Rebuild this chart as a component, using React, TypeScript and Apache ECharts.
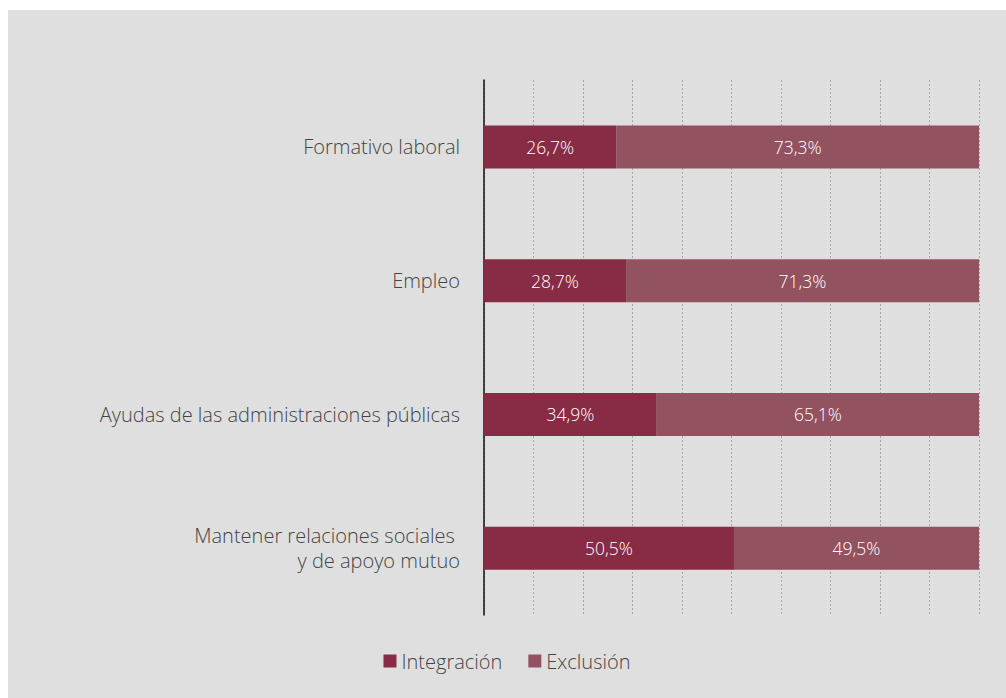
import React, { useEffect, useRef } from "react";
import * as echarts from "echarts";

const categories = [
  "Formativo laboral",
  "Empleo",
  "Ayudas de las administraciones públicas",
  "Mantener relaciones sociales \ny de apoyo mutuo",
];
const integracion = [26.7, 28.7, 34.9, 50.5];
const exclusion = [73.3, 71.3, 65.1, 49.5];
const seriesNames = ["Integración", "Exclusión"];

const FONT = "'Open Sans', Lato, sans-serif";

const fmt = (v: number) => v.toFixed(1).replace(".", ",") + "%";

export default function App() {
  const ref = useRef<HTMLDivElement>(null);
  useEffect(() => {
    document.body.style.margin = "0";
    const chart = echarts.init(ref.current!, undefined, { renderer: "svg" });
    const label = {
      show: true,
      position: "inside" as const,
      color: "#ffffff",
      fontFamily: FONT,
      fontSize: 17.5,
      fontWeight: 300,
      formatter: (p: any) => fmt(p.value),
    };
    chart.setOption({
      animation: false,
      backgroundColor: "#dfdfdf",
      grid: { left: 476, right: 27, top: 70, bottom: 83, containLabel: false },
      legend: {
        bottom: 22,
        left: "center",
        itemWidth: 13,
        itemHeight: 13,
        itemGap: 26,
        itemTextGap: 6,
        icon: "rect",
        textStyle: { fontFamily: FONT, fontSize: 20, color: "#444", fontWeight: 300 },
        data: seriesNames,
      },
      xAxis: {
        type: "value",
        min: 0,
        max: 100,
        interval: 10,
        axisLabel: { show: false },
        axisLine: { show: false },
        axisTick: { show: false },
        splitLine: { show: true, lineStyle: { type: [2, 2], color: "#a8a8a8", width: 1 } },
      },
      yAxis: {
        type: "category",
        inverse: true,
        data: categories,
        axisLine: { show: true, lineStyle: { color: "#111", width: 1.5 } },
        axisTick: { show: false },
        axisLabel: {
          margin: 24,
          fontFamily: FONT,
          fontSize: 20,
          fontWeight: 300,
          color: "#444",
          lineHeight: 25,
          align: "right",
        },
      },
      series: [
        {
          name: seriesNames[0],
          type: "bar",
          stack: "total",
          data: integracion,
          barWidth: 43,
          itemStyle: { color: "#882b45" },
          label,
        },
        {
          name: seriesNames[1],
          type: "bar",
          stack: "total",
          data: exclusion,
          barWidth: 43,
          itemStyle: { color: "#93525f" },
          label,
        },
      ],
    });
    return () => chart.dispose();
  }, []);
  return (
    <div style={{ width: 1006, height: 698, background: "#fff", position: "relative" }}>
      <div
        ref={ref}
        style={{ position: "absolute", left: 8, top: 10, width: 998, height: 688 }}
      />
    </div>
  );
}
